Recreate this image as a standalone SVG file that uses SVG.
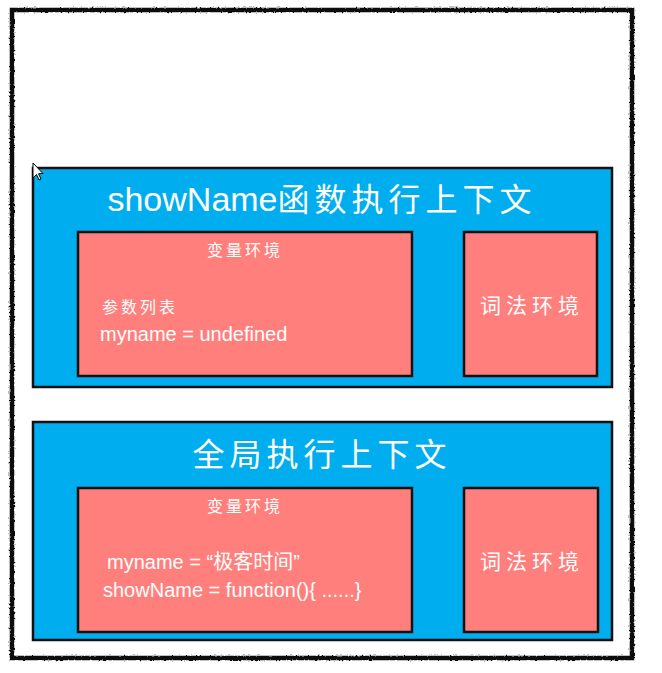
<svg xmlns="http://www.w3.org/2000/svg" width="662" height="673" viewBox="0 0 662 673">
<style>
.ctx{fill:#00aeef;stroke:#111;stroke-width:2.5}
.env{fill:#ff7f7d;stroke:#111;stroke-width:2.5}
.t{fill:#fff;font-family:"Liberation Sans","Noto Sans CJK SC",sans-serif}
.title{font-size:32px;text-anchor:middle}
.cjk{letter-spacing:5px}
.small{font-size:16px;letter-spacing:3px}
.code{font-size:20px}
.lex{font-size:21px;letter-spacing:5px;text-anchor:middle}
</style>
<defs>
<filter id="rough" x="-5%" y="-5%" width="110%" height="110%">
<feTurbulence type="fractalNoise" baseFrequency="0.5" numOctaves="2" seed="3" result="n"/>
<feDisplacementMap in="SourceGraphic" in2="n" scale="3" xChannelSelector="R" yChannelSelector="G"/>
</filter>
</defs>
<rect width="662" height="673" fill="#fff"/>
<g id="frame" fill="none" stroke="#111">
<rect x="12" y="10" width="620" height="648" stroke-width="3"/>
<rect x="12" y="10" width="620" height="648" stroke-width="4.5" filter="url(#rough)"/>
</g>
<g id="fn-ctx">
<rect class="ctx" x="33" y="168" width="579" height="219"/>
<text class="t title" x="322" y="211"><tspan font-size="34">showName</tspan><tspan class="cjk">函数执行上下文</tspan></text>
</g>
<g id="fn-var-env">
<rect class="env" x="78" y="232" width="334" height="144"/>
<text class="t small" x="245" y="256" text-anchor="middle">变量环境</text>
<text class="t small" x="102" y="313">参数列表</text>
<text class="t code" x="100" y="341">myname = undefined</text>
</g>
<g id="fn-lex-env">
<rect class="env" x="464" y="232" width="133" height="144"/>
<text class="t lex" x="532" y="313">词法环境</text>
</g>
<g id="global-ctx">
<rect class="ctx" x="33" y="422" width="579" height="218"/>
<text class="t title cjk" x="322" y="466">全局执行上下文</text>
</g>
<g id="global-var-env">
<rect class="env" x="78" y="488" width="334" height="144"/>
<text class="t small" x="245" y="512" text-anchor="middle">变量环境</text>
<text class="t code" x="107" y="569">myname = “极客时间”</text>
<text class="t code" x="103" y="597">showName = function(){ ......}</text>
</g>
<g id="global-lex-env">
<rect class="env" x="464" y="488" width="134" height="144"/>
<text class="t lex" x="532" y="569">词法环境</text>
</g>
<g id="connectors"></g>
<path d="M33 163 L33 178 L36.5 174.5 L39 180 L41 179 L38.5 173.8 L43 173.5 Z" fill="#fff" stroke="#000" stroke-width="1"/>
</svg>
